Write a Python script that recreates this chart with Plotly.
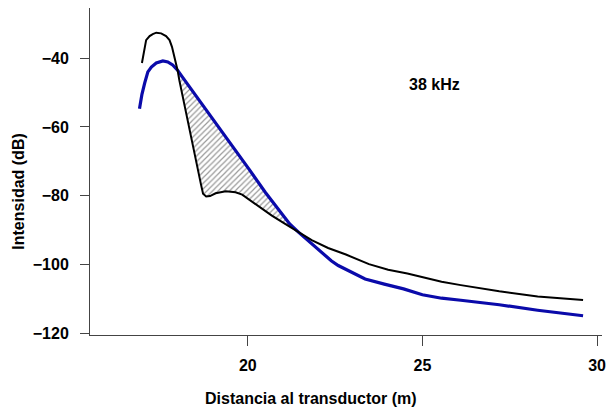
import numpy as np
import plotly.graph_objects as go

# ---- data ----
black_x = [16.97, 17.09, 17.19, 17.28, 17.38, 17.52, 17.66, 17.76, 17.83, 17.90,
           17.99, 18.04, 18.18, 18.37, 18.52, 18.66, 18.72, 18.81, 18.92, 19.08,
           19.37, 19.65, 19.84, 20.22, 20.69, 21.07, 21.45, 21.83, 22.30, 22.81,
           23.47, 24.02, 24.57, 25.00, 25.55, 26.10, 27.20, 28.30, 29.60]
black_y = [-41.4, -34.75, -33.6, -33.0, -32.6, -32.8, -33.6, -34.75, -36.7, -39.6,
           -43.5, -46.4, -53.4, -63.0, -70.6, -76.7, -79.4, -80.2, -80.1, -79.3,
           -78.7, -79.0, -79.7, -82.4, -85.8, -88.2, -90.6, -92.9, -95.2, -97.1,
           -99.9, -101.5, -102.6, -103.6, -105.0, -106.0, -107.8, -109.3, -110.3]

blue_x = [16.90, 16.97, 17.05, 17.14, 17.24, 17.38, 17.57, 17.71, 17.85, 17.99,
          18.13, 18.61, 19.08, 19.55, 20.03, 20.50, 20.97, 21.20, 21.45, 21.95, 22.39,
          22.59, 23.36, 23.91, 24.46, 25.00, 25.55, 26.10, 27.20, 28.30, 29.60]
blue_y = [-54.7, -50.5, -47.2, -44.0, -42.6, -41.4, -40.8, -41.1, -42.0, -43.5,
          -45.5, -52.2, -58.7, -65.2, -72.2, -79.0, -85.3, -88.2, -90.6, -95.0, -98.9,
          -100.3, -104.2, -105.7, -107.1, -108.8, -109.8, -110.4, -111.7, -113.3, -114.9]

# the two crossing distances bounding the hatched area
cross_lo, cross_hi = 17.99, 21.45

x_ticks = [20, 25, 30]
y_ticks = [-40, -60, -80, -100, -120]
freq_label = "38 kHz"
x_title = "Distancia al transductor (m)"
y_title = "Intensidad (dB)"

# ---- hatched region between curves ----
bx, by = np.array(blue_x), np.array(blue_y)
kx, ky = np.array(black_x), np.array(black_y)
mb = (bx >= cross_lo) & (bx <= cross_hi)
mk = (kx >= cross_lo) & (kx <= cross_hi)
poly_x = list(bx[mb]) + list(kx[mk][::-1])
poly_y = list(by[mb]) + list(ky[mk][::-1])

FONT = "Liberation Sans, Arial, Helvetica, sans-serif"

fig = go.Figure()
fig.add_trace(go.Scatter(
    x=poly_x, y=poly_y, mode="lines", fill="toself",
    line=dict(width=0, color="rgba(0,0,0,0)"),
    fillcolor="rgba(0,0,0,0)",
    fillpattern=dict(shape="/", fgcolor="#333333", bgcolor="rgba(0,0,0,0)",
                     size=4, solidity=0.3),
    hoverinfo="skip", showlegend=False))
fig.add_trace(go.Scatter(x=blue_x, y=blue_y, mode="lines",
                         line=dict(color="#0a0aaa", width=3.2), showlegend=False))
fig.add_trace(go.Scatter(x=black_x, y=black_y, mode="lines",
                         line=dict(color="#000000", width=2), showlegend=False))

fig.update_layout(
    width=606, height=407,
    margin=dict(l=90, r=0, t=8, b=72),
    paper_bgcolor="white", plot_bgcolor="white",
    font=dict(family=FONT, size=16, color="black"),
    showlegend=False,
    xaxis=dict(range=[15.483, 30.142], tickvals=x_ticks, ticktext=[str(v) for v in x_ticks],
               showgrid=False, zeroline=False, showline=True, linecolor="#444444", linewidth=1,
               ticks="outside", ticklen=10, tickwidth=1, tickcolor="#444444",
               ticklabeloverflow="allow",
               tickfont=dict(family=FONT, size=16, weight="bold"), ticklabelstandoff=6),
    yaxis=dict(range=[-120.5, -25.42], tickvals=y_ticks,
               showgrid=False, zeroline=False, showline=True, linecolor="#444444", linewidth=1,
               ticks="outside", ticklen=9, tickwidth=1, tickcolor="#444444",
               tickfont=dict(family=FONT, size=16, weight="bold"), ticklabelstandoff=8),
    annotations=[
        dict(text=freq_label, x=0.672, y=0.765, xref="paper", yref="paper",
             showarrow=False, xanchor="center", yanchor="middle",
             font=dict(family=FONT, size=16, weight="bold")),
        dict(text=x_title, x=0.432, y=-0.1927, xref="paper", yref="paper",
             showarrow=False, xanchor="center", yanchor="middle",
             font=dict(family=FONT, size=16, weight="bold")),
        dict(text=y_title, x=-0.1395, y=0.437, xref="paper", yref="paper",
             showarrow=False, xanchor="center", yanchor="middle", textangle=-90,
             font=dict(family=FONT, size=16, weight="bold")),
    ],
)

fig.write_html("out.html", config={"displayModeBar": False},
               post_script="document.body.style.margin='0';document.body.style.overflow='hidden';")
